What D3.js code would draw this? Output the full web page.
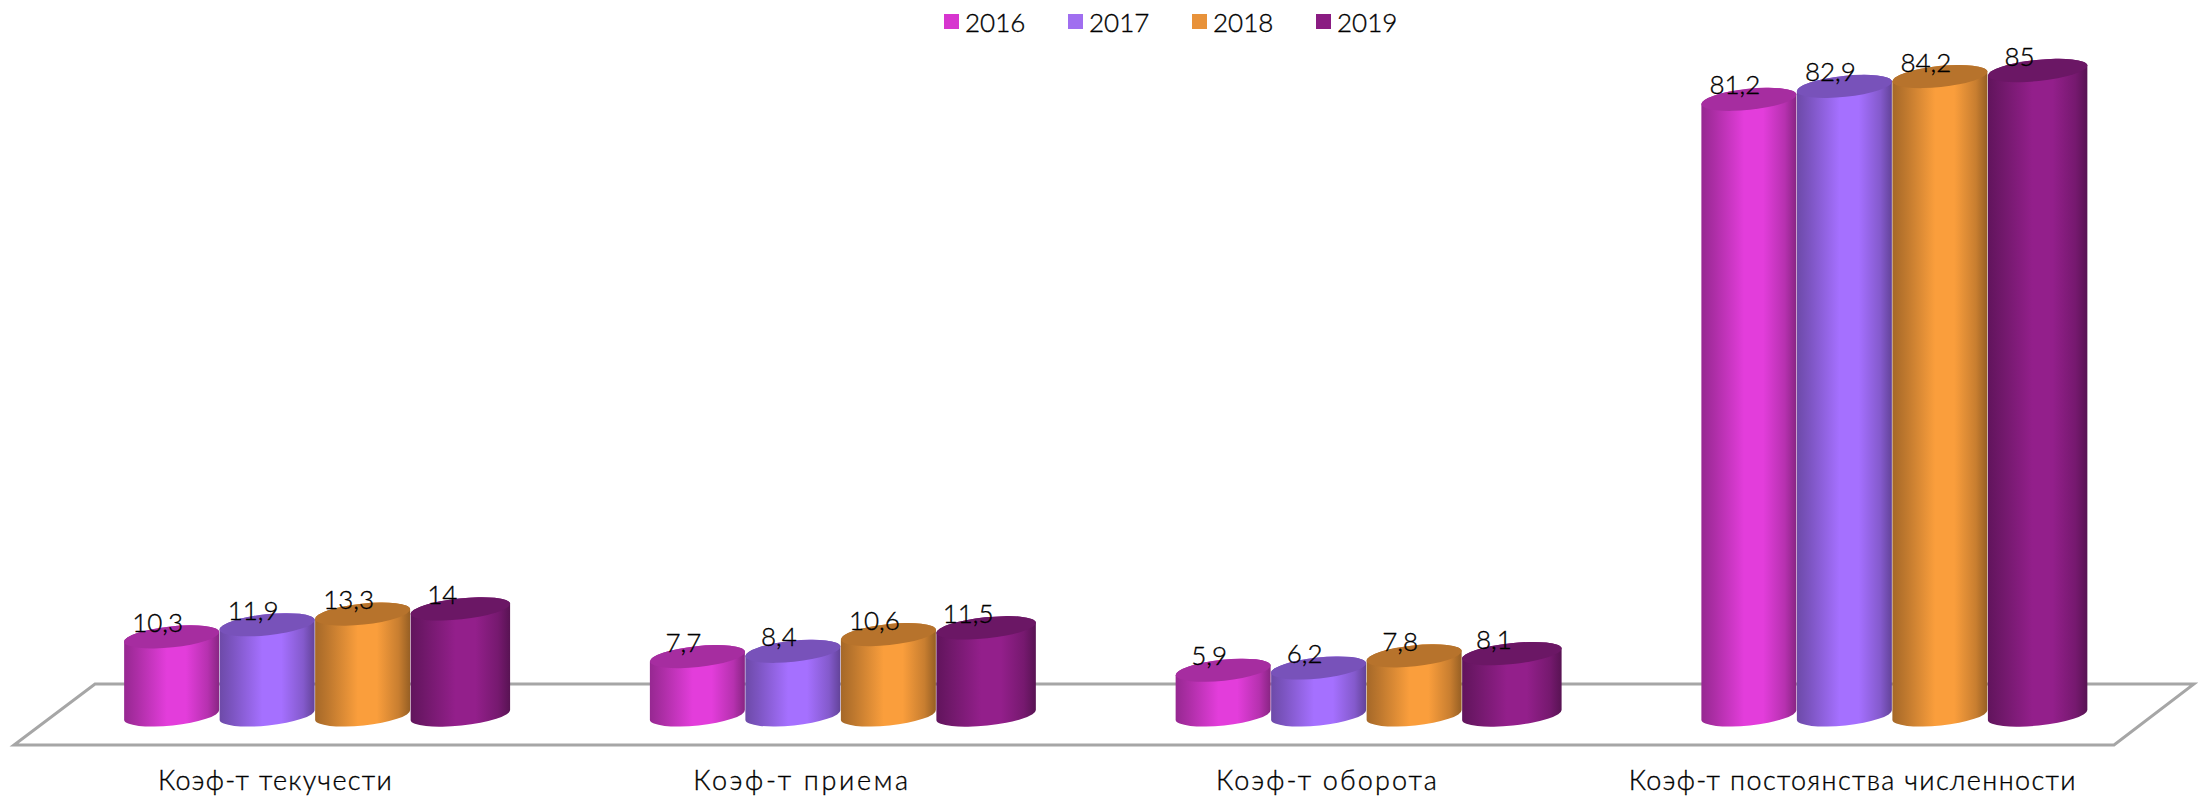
<!DOCTYPE html>
<html><head><meta charset="utf-8"><style>html,body{margin:0;background:#fff}svg{display:block}text{font-family:"Lato","Open Sans",sans-serif;font-weight:300;fill:#000;stroke:#000;stroke-width:.35px}</style>
<script src="https://cdn.jsdelivr.net/npm/d3@7"></script></head><body><svg id="c" width="2198" height="798"></svg>
<script>
const categories=["Коэф-т текучести","Коэф-т приема","Коэф-т оборота","Коэф-т постоянства численности"];
const years=["2016","2017","2018","2019"];
const s2016=[10.3,7.7,5.9,81.2];
const s2017=[11.9,8.4,6.2,82.9];
const s2018=[13.3,10.6,7.8,84.2];
const s2019=[14,11.5,8.1,85];
const series=[s2016,s2017,s2018,s2019];
const bodyColors=["#e33ddb","#a570ff","#fa9e3c","#931f8b"];
const legendColors=["#d735cf","#a06ef0","#e8923a","#8a1c82"];
const floorCorners=[[95,684],[2194,684],[2114,745],[14,745]];
const categoryTextWidths=[234,215,221,447];

const svg=d3.select("#c"),defs=svg.append("defs");
const x=d3.scaleBand().domain(categories).range([55,2158]);
const inner=d3.scaleBand().domain(years).range([0,382]);
const y=d3.scaleLinear().domain([0,85]).range([715,70.5]);
const tilt=-6, ry=10.5;
const fmt=v=>String(v).replace(".",",");
const shade=(c,k)=>{const r=d3.rgb(c);return d3.rgb(r.r*k,r.g*k,r.b*k).formatHex();};

svg.append("path").attr("d",d3.line()(floorCorners)+"Z")
 .attr("fill","none").attr("stroke","#a6a6a6").attr("stroke-width",3);

bodyColors.forEach((c,i)=>{
 const g=defs.append("linearGradient").attr("id","g"+i);
 [[0,.66],[.14,.76],[.45,1],[.65,1],[.88,.8],[1,.6]].forEach(([o,k])=>{
  g.append("stop").attr("offset",o).attr("stop-color",shade(c,k));
 });
});

function cyl(sel,cx,rx,top,bot,i){
 const a=tilt*Math.PI/180, dx=rx*Math.cos(a), dy=rx*Math.sin(a);
 const d=`M${cx-dx},${top-dy}L${cx-dx},${bot-dy}A${rx},${ry},${tilt},0,0,${cx+dx},${bot+dy}L${cx+dx},${top+dy}A${rx},${ry},${tilt},0,0,${cx-dx},${top-dy}Z`;
 const g=sel.append("g");
 g.append("path").attr("d",d).attr("fill",`url(#g${i})`);
 g.append("ellipse").attr("rx",rx).attr("ry",ry)
  .attr("transform",`translate(${cx},${top}) rotate(${tilt})`)
  .attr("fill",shade(bodyColors[i],.73));
}

const plot=svg.append("g"),lab=svg.append("g");
categories.forEach((cat,ci)=>{
 const left=x(cat)+x.bandwidth()/2-194;
 series.forEach((s,i)=>{
  const last=i===3, w=inner.bandwidth()+(last?4.5:0);
  const cx=left+inner(years[i])+w/2;
  const top=y(s[ci]);
  cyl(plot,cx,w/2,top,y(0),i);
  lab.append("text").attr("x",cx-(last?18:14)).attr("y",top-5).attr("text-anchor","middle")
   .attr("font-size",26).text(fmt(s[ci]));
 });
 lab.append("text").attr("x",x(cat)+x.bandwidth()/2-43).attr("y",790).attr("text-anchor","middle")
  .attr("font-size",27).attr("textLength",categoryTextWidths[ci]).attr("lengthAdjust","spacing").text(cat);
});

const legend=d3.scalePoint().domain(years).range([944,1316]);
years.forEach((t,i)=>{
 svg.append("rect").attr("x",legend(t)).attr("y",14).attr("width",15).attr("height",15).attr("fill",legendColors[i]);
 svg.append("text").attr("x",legend(t)+21).attr("y",32).attr("font-size",26).text(t);
});
</script></body></html>
